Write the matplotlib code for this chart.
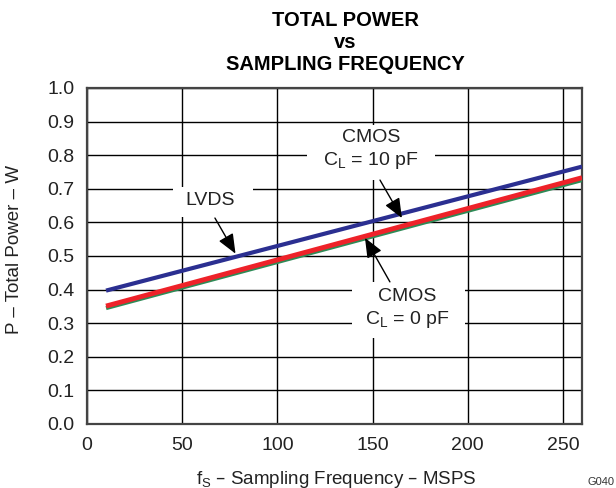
import matplotlib.pyplot as plt
from matplotlib.patches import Rectangle

plt.rcParams['font.family'] = ['Liberation Sans', 'DejaVu Sans']

# data (MSPS, W)
fs = [10, 260]
lvds = [0.397, 0.766]
cmos_10pf = [0.351, 0.733]
cmos_0pf = [0.345, 0.726]

xticks = [0, 50, 100, 150, 200, 250]
yticks = [0.0, 0.1, 0.2, 0.3, 0.4, 0.5, 0.6, 0.7, 0.8, 0.9, 1.0]

W, H = 616, 488
fig = plt.figure(figsize=(W / 100, H / 100), dpi=100)
ax = fig.add_axes([87 / W, 1 - 424 / H, (582 - 87) / W, (424 - 88) / H])

ax.plot(fs, lvds, color='#2b2f91', lw=3.0, zorder=3, solid_capstyle='butt')
ax.plot(fs, cmos_0pf, color='#2e8b57', lw=3.0, zorder=3, solid_capstyle='butt')
ax.plot(fs, cmos_10pf, color='#ee2229', lw=3.5, zorder=4, solid_capstyle='butt')

ax.set_xlim(0, 260)
ax.set_ylim(0, 1.0)
ax.set_xticks(xticks)
ax.set_yticks(yticks)
ax.set_yticklabels(['%.1f' % v for v in yticks])
ax.grid(True, color='black', lw=1.0)
ax.set_axisbelow(True)
ax.tick_params(length=0, labelsize=14, pad=9, labelcolor='#222222')
for s in ax.spines.values():
    s.set_linewidth(1.6)
    s.set_color('#444444')

# white boxes behind the labels that break the grid
for x0, x1, y0, y1 in [(45.2, 87.2, 0.616, 0.705),
                       (115.5, 182.8, 0.726, 0.89),
                       (139.2, 198.5, 0.256, 0.423)]:
    ax.add_patch(Rectangle((x0, y0), x1 - x0, y1 - y0, fc='white', ec='none', zorder=1.5))

ax.text(64.6, 0.664, 'LVDS', ha='center', va='center', fontsize=14, color='#222222', zorder=2)
ax.text(149.2, 0.815, 'CMOS\n$\\mathregular{C_L}$ = 10 pF', ha='center', va='center',
        fontsize=14, color='#222222', zorder=2, linespacing=1.3)
ax.text(168.1, 0.342, 'CMOS\n$\\mathregular{C_L}$ = 0 pF', ha='center', va='center',
        fontsize=14, color='#222222', zorder=2, linespacing=1.3)

arw = dict(arrowstyle='-|>,head_length=1.2,head_width=0.5', color='black', lw=1.0,
           shrinkA=0, shrinkB=0)
ax.annotate('', xy=(78.0, 0.507), xytext=(67.2, 0.613), arrowprops=arw, zorder=5)
ax.annotate('', xy=(165.4, 0.613), xytext=(153.9, 0.726), arrowprops=arw, zorder=5)
ax.annotate('', xy=(146.0, 0.554), xytext=(159.1, 0.423), arrowprops=arw, zorder=5)

fig.text(15 / W, 1 - 249 / H, 'P – Total Power – W', rotation=90, ha='center', va='center',
         fontsize=13.5, color='#222222')
fig.text(336 / W, 1 - 479 / H, 'f$\\mathregular{_S}$ – Sampling Frequency – MSPS',
         ha='center', va='center', fontsize=13.5, color='#222222')

for txt, yc in [('TOTAL POWER', 21), ('vs', 42), ('SAMPLING FREQUENCY', 64)]:
    fig.text(345 / W, 1 - yc / H, txt, ha='center', va='center',
             fontsize=14.5, fontweight='bold')
fig.text(0.998, 0.002, 'G040', ha='right', va='bottom', fontsize=8, color='#333333')

fig.savefig('out.png', dpi=100)
